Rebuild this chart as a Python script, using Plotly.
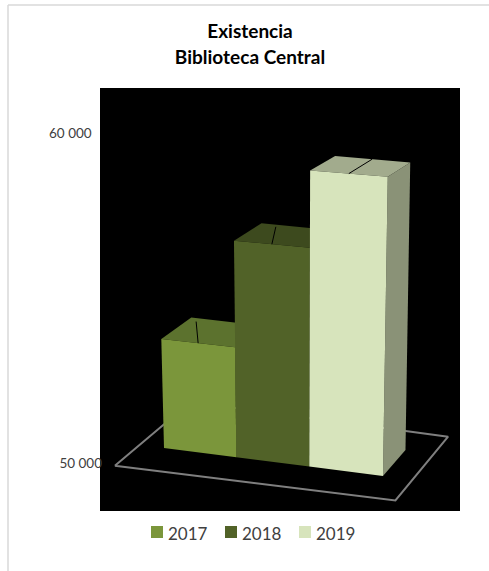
import plotly.graph_objects as go

years = ["2017", "2018", "2019"]
values = [53300, 56500, 58800]
front_colors = ["#7B963B", "#516228", "#D7E4BC"]
top_colors = ["#5C722E", "#3D4A1E", "#A2AB8D"]
side_colors = ["#5C722E", "#3D4A1E", "#8A9277"]
tick_vals = [50000, 60000]
tick_text = ["50 000", "60 000&nbsp;&nbsp;&nbsp;"]
title_lines = ["Existencia", "Biblioteca Central"]

W, H = 489, 571
BASE = 50000
PX_PER_UNIT = 330 / 10000


def project(u, d, v):
    """Oblique/perspective projection: u = position along categories, d = depth, v = value."""
    h = (v - BASE) * PX_PER_UNIT
    x = 164 + 72 * u + 0.33 * u * u + (u - 1.8) * 0.0137 * h + d * (30 - 2.5 * u)
    yp = 448 + 9.3 * u - h * (1 + 0.01 * u) + d * (-26 + 0.04 * h)
    return x, BASE + (463 - yp) / PX_PER_UNIT


def poly(points):
    pts = [project(*p) for p in points]
    pts.append(pts[0])
    return [p[0] for p in pts], [p[1] for p in pts]


fig = go.Figure()

# floor
fx, fy = poly([(-0.34, -0.8, BASE), (3.4, -0.8, BASE), (3.4, 1.65, BASE), (-0.34, 1.65, BASE)])
fig.add_trace(go.Scatter(x=fx, y=fy, mode="lines", line=dict(color="#7F7F7F", width=2),
                         showlegend=False, hoverinfo="skip"))

for i, (year, val) in enumerate(zip(years, values)):
    u0, u1 = i, i + 1
    # side
    x, y = poly([(u1, 0, BASE), (u1, 1, BASE), (u1, 1, val), (u1, 0, val)])
    fig.add_trace(go.Scatter(x=x, y=y, mode="lines", fill="toself", fillcolor=side_colors[i],
                             line=dict(width=0, color=side_colors[i]), showlegend=False, hoverinfo="skip"))
    # top
    x, y = poly([(u0, 0, val), (u1, 0, val), (u1, 1, val), (u0, 1, val)])
    fig.add_trace(go.Scatter(x=x, y=y, mode="lines", fill="toself", fillcolor=top_colors[i],
                             line=dict(width=0, color=top_colors[i]), showlegend=False, hoverinfo="skip"))
    # front
    x, y = poly([(u0, 0, BASE), (u1, 0, BASE), (u1, 0, val), (u0, 0, val)])
    fig.add_trace(go.Scatter(x=x, y=y, mode="lines", fill="toself", fillcolor=front_colors[i],
                             line=dict(width=0, color=front_colors[i]), name=year, hoverinfo="name",
                             showlegend=False))
    # gridline across the top, converging towards the left of the view
    a = project(i + 0.5, 0, val)
    b = project(i + 0.5, 1, val)
    t = (a[0] - 199) / 149
    fig.add_trace(go.Scatter(x=[a[0], a[0] - 2 + 25 * t * t], y=[a[1], b[1]], mode="lines",
                             line=dict(color="#000000", width=1), showlegend=False, hoverinfo="skip"))

title_text = "<br>".join(f'<span style="font-size:19px">{t}</span>' for t in title_lines)

# legend keys drawn to the reference's compact spacing
shapes = [
    dict(type="line", xref="paper", yref="paper", x0=8 / W, x1=1, y0=1 - 5 / H, y1=1 - 5 / H,
         line=dict(color="#D9D9D9", width=1.5)),
    dict(type="line", xref="paper", yref="paper", x0=8 / W, x1=8 / W, y0=0, y1=1 - 5 / H,
         line=dict(color="#D9D9D9", width=1.5)),
]
annotations = []
for i, year in enumerate(years):
    left = 151 + 74 * i
    shapes.append(dict(type="rect", xref="paper", yref="paper", x0=left / W, x1=(left + 12) / W,
                       y0=1 - 538 / H, y1=1 - 526 / H, fillcolor=front_colors[i], line=dict(width=0)))
    annotations.append(dict(text=year, xref="paper", yref="paper", x=(left + 17) / W, y=1 - 533 / H,
                            xanchor="left", yanchor="middle", showarrow=False,
                            font=dict(size=17, color="#404040"), xshift=-2))

fig.update_layout(
    width=W, height=H,
    margin=dict(l=0, r=0, t=0, b=0),
    showlegend=False,
    paper_bgcolor="#FFFFFF",
    plot_bgcolor="#000000",
    font=dict(family="Lato, Carlito, sans-serif", color="#404040"),
    title=dict(text=title_text, x=250 / W, xanchor="center", y=1 - 38 / H, yanchor="middle",
               font=dict(size=20, color="#000000", family="Lato, sans-serif", weight="bold")),
    xaxis=dict(domain=[100 / W, 460 / W], range=[100, 460], visible=False),
    yaxis=dict(domain=[1 - 511 / H, 1 - 88 / H],
               range=[BASE + (463 - 511) / PX_PER_UNIT, BASE + (463 - 88) / PX_PER_UNIT],
               tickmode="array", tickvals=tick_vals, ticktext=tick_text, showgrid=False,
               zeroline=False, showline=False, ticks="", ticklabelstandoff=-3,
               tickfont=dict(size=13.5, color="#404040", family="Lato, sans-serif")),
    shapes=shapes,
    annotations=annotations,
)

fig.write_html("out.html", config={"displayModeBar": False},
               post_script="document.body.style.margin='0';")
